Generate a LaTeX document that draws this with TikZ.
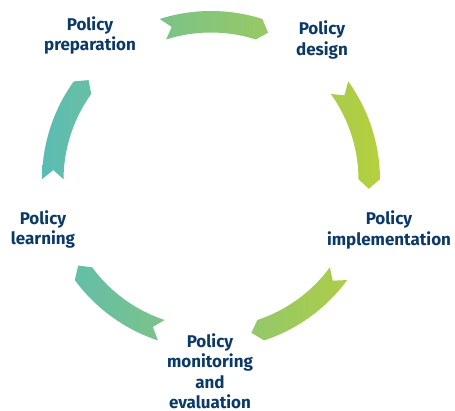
\documentclass[tikz,border=0pt]{standalone}
\usepackage{fontspec}
\setmainfont{Fira Sans}
\definecolor{navy}{HTML}{0B3A68}
\definecolor{tealA}{HTML}{5BBCB4}
\definecolor{limeB}{HTML}{B6CF3C}
\newcommand\cyclearrow[1]{%
  ({#1+17.7}:169pt) arc[start angle={#1+17.7}, end angle={#1-17.7}, radius=169pt]
  -- ({#1-21.2}:158pt) -- ({#1-17.7}:147.5pt)
  arc[start angle={#1-17.7}, end angle={#1+17.7}, radius=147.5pt]
  -- ({#1+14.4}:158pt) -- cycle}
\newcommand\lines[1]{\begin{tabular}[t]{@{}c@{}}#1\end{tabular}}
\begin{document}
\begin{tikzpicture}[x=1pt,y=1pt,
  lbl/.style={text=navy, inner sep=0pt, anchor=base,
    font=\bfseries\fontsize{17}{20.5}\selectfont}]
\useasboundingbox (0,0) rectangle (455,411);
\begin{scope}
  \clip[shift={(211,231)}] \cyclearrow{90} \cyclearrow{18} \cyclearrow{-54}
    \cyclearrow{-126} \cyclearrow{162};
  \shade[left color=tealA, right color=limeB] (42,0) rectangle (380,411);
\end{scope}
\node[lbl] (prep) at (90,380.5) {\lines{Policy\\preparation}};
\node[lbl] (design) at (322,376) {\lines{Policy\\design}};
\node[lbl] (impl) at (389,186) {\lines{Policy\\implementation}};
\node[lbl] (mon) at (210,63.7) {\lines{Policy\\monitoring\\and\\evaluation}};
\node[lbl] (learn) at (43,186.5) {\lines{Policy\\learning}};
\end{tikzpicture}
\end{document}
